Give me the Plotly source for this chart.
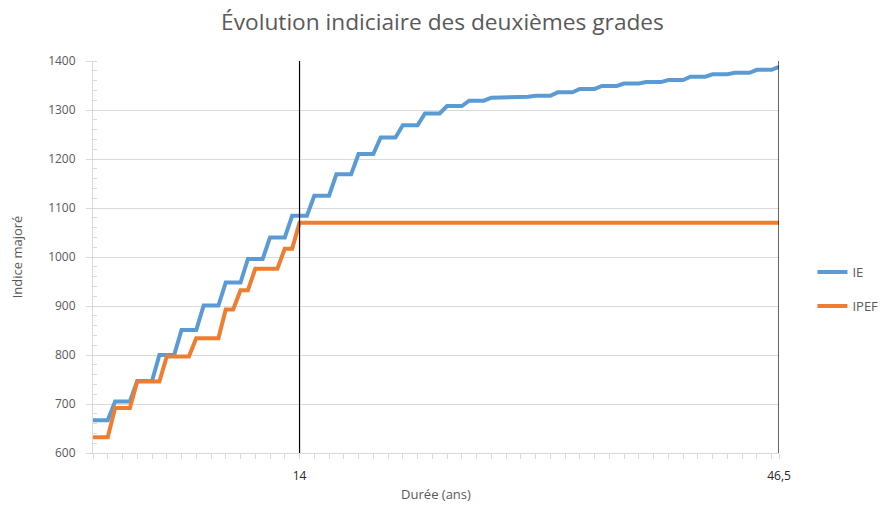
import plotly.graph_objects as go

# ---- data ----
ie_start = [0, 1.5, 3, 4.5, 6, 7.5, 9, 10.5, 12, 13.5, 15, 16.5, 18, 19.5, 21, 22.5,
            24, 25.5, 27, 28.5, 30, 31.5, 33, 34.5, 36, 37.5, 39, 40.5, 42, 43.5, 45, 46.5]
ie_end = [1, 2.5, 4, 5.5, 7, 8.5, 10, 11.5, 13, 14.5, 16, 17.5, 19, 20.5, 22, 23.5,
          25, 26.5, 28, 29.5, 31, 32.5, 34, 35.5, 37, 38.5, 40, 41.5, 43, 44.5, 46, 46.5]
ie_levels = [667, 705, 747, 800, 851, 901, 948, 996, 1040, 1084, 1125, 1169, 1210, 1244, 1269, 1293,
             1308, 1319, 1325, 1327, 1329, 1336, 1343, 1349, 1354, 1357, 1361, 1368, 1373, 1376, 1382, 1388]

ipef_start = [0, 1.5, 3, 5, 7, 9, 10, 11, 13, 14]
ipef_end = [1, 2.5, 4.5, 6.5, 8.5, 9.5, 10.5, 12.5, 13.5, 46.5]
ipef_levels = [632, 692, 746, 797, 834, 893, 932, 976, 1017, 1070]

marker_years = [14, 46.5]
marker_labels = ["14", "46,5"]

y_ticks = [600, 700, 800, 900, 1000, 1100, 1200, 1300, 1400]


def steps(starts, ends, levels):
    xs, ys = [], []
    for s, e, v in zip(starts, ends, levels):
        xs += [s, e]
        ys += [v, v]
    return xs, ys


ie_x, ie_y = steps(ie_start, ie_end, ie_levels)
ipef_x, ipef_y = steps(ipef_start, ipef_end, ipef_levels)

FONT = "Open Sans"
GREY = "#595959"
GRID = "#d9d9d9"

fig = go.Figure()
fig.add_trace(go.Scatter(x=ie_x, y=ie_y, mode="lines", name="IE", legendgroup="a",
                         line=dict(color="#5B9BD5", width=4)))
fig.add_trace(go.Scatter(x=ipef_x, y=ipef_y, mode="lines", name="IPEF", legendgroup="b",
                         line=dict(color="#ED7D31", width=4)))

for xv in marker_years:
    fig.add_shape(type="line", xref="x", yref="paper", x0=xv, x1=xv, y0=0, y1=1,
                  line=dict(color="black", width=1.2), layer="above")

fig.update_layout(
    width=885, height=508,
    margin=dict(l=93, r=106, t=61, b=55),
    paper_bgcolor="white", plot_bgcolor="white",
    hovermode=False,
    font=dict(family=FONT, color=GREY, size=12),
    title=dict(text="Évolution indiciaire des deuxièmes grades", x=0.5, xanchor="center",
               y=0.957, yanchor="middle", font=dict(family=FONT, size=22.7, color=GREY)),
    legend=dict(xref="container", yref="container", x=0.918, y=0.431,
                xanchor="left", yanchor="middle", tracegroupgap=14,
                font=dict(size=13, color=GREY), bgcolor="rgba(0,0,0,0)"),
    showlegend=True,
)

fig.update_xaxes(
    range=[0, 46.5], showgrid=False, zeroline=False, automargin=False,
    showline=True, linecolor=GRID, linewidth=1,
    tickmode="array", tickvals=marker_years, ticktext=marker_labels,
    ticks="outside", ticklen=5, tickcolor=GRID,
    tickfont=dict(size=12, color="#262626"), ticklabelstandoff=7,
    minor=dict(dtick=1, tick0=0, ticks="outside", ticklen=5, tickcolor=GRID, showgrid=False),
    title=dict(text="Durée (ans)", font=dict(size=13, color=GREY), standoff=6),
)

fig.update_yaxes(
    range=[600, 1400], showgrid=True, gridcolor=GRID, gridwidth=1, zeroline=False, automargin=False,
    showline=True, linecolor=GRID, linewidth=1,
    tickmode="array", tickvals=y_ticks,
    ticks="outside", ticklen=6, tickcolor=GRID,
    tickfont=dict(size=12, color=GREY), ticklabelstandoff=8,
    minor=dict(dtick=20, tick0=600, ticks="inside", ticklen=4, tickcolor=GRID, showgrid=False),
    title=dict(text="Indice majoré", font=dict(size=13, color=GREY), standoff=22),
)

fig.write_html("out.html", config={"displayModeBar": False},
               post_script="document.body.style.margin='0';document.body.style.overflow='hidden';")
